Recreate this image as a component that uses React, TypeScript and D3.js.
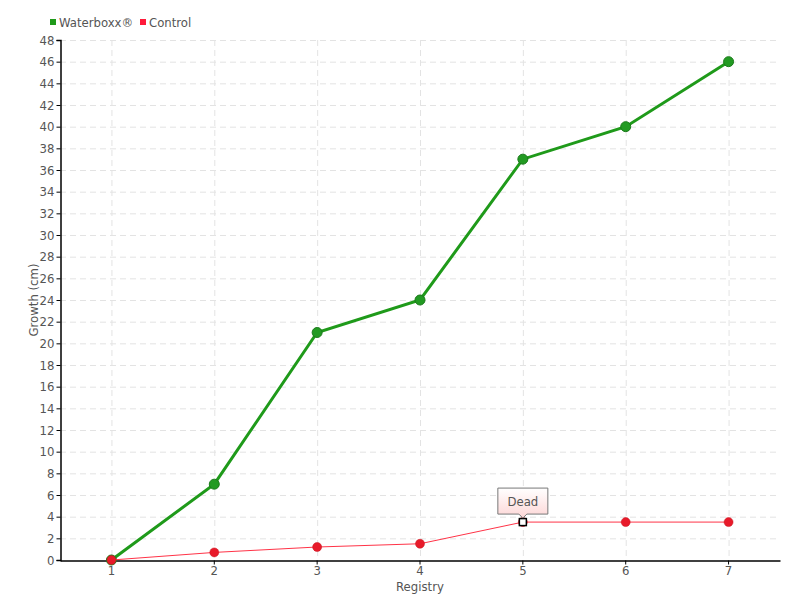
import { useEffect, useRef } from "react";
import * as d3 from "d3";

const registries = ["1", "2", "3", "4", "5", "6", "7"];
const waterboxx = [0, 7, 21, 24, 37, 40, 46];
const control = [0, 0.7, 1.2, 1.5, 3.5, 3.5, 3.5];
const yTicks = d3.range(0, 49, 2);
const deadIndex = 4;

export default function App() {
  const ref = useRef<SVGSVGElement>(null);

  useEffect(() => {
    if (!ref.current) return;
    const width = 800;
    const height = 600;
    const margin = { top: 40, right: 20, bottom: 40, left: 60 };
    const font = "'DejaVu Sans Condensed', 'DejaVu Sans', sans-serif";

    const svg = d3.select(ref.current);
    svg.selectAll("*").remove();
    svg.attr("width", width).attr("height", height).style("font-family", font);

    const x = d3
      .scaleBand()
      .domain(registries)
      .range([margin.left, width - margin.right])
      .padding(0);
    const cx = (i: number) => x(registries[i])! + x.bandwidth() / 2;
    const y = d3
      .scaleLinear()
      .domain([0, 48])
      .range([height - margin.bottom, margin.top]);

    // grid
    const grid = svg.append("g").attr("stroke", "#e3e3e3").attr("stroke-dasharray", "6,4");
    grid.selectAll("line.h")
      .data(yTicks.slice(1))
      .enter()
      .append("line")
      .attr("x1", margin.left)
      .attr("x2", width - margin.right)
      .attr("y1", (d) => y(d) + 0.5)
      .attr("y2", (d) => y(d) + 0.5);
    grid.selectAll("line.v")
      .data(registries)
      .enter()
      .append("line")
      .attr("y1", margin.top)
      .attr("y2", height - margin.bottom)
      .attr("x1", (d) => x(d)! + x.bandwidth() / 2 + 0.5)
      .attr("x2", (d) => x(d)! + x.bandwidth() / 2 + 0.5);

    // axes
    const yAxis = svg.append("g")
      .attr("transform", `translate(${margin.left + 0.5},0)`)
      .call(d3.axisLeft(y).tickValues(yTicks).tickSize(4).tickPadding(2));
    yAxis.select(".domain").attr("stroke", "#000").attr("stroke-width", 1.5);
    yAxis.selectAll("text").style("font-size", "13px").attr("fill", "#555").style("font-family", font);

    const xAxis = svg.append("g")
      .attr("transform", `translate(0,${height - margin.bottom + 0.5})`)
      .call(d3.axisBottom(x).tickSize(4).tickSizeOuter(0).tickPadding(1));
    xAxis.select(".domain").attr("stroke", "#000").attr("stroke-width", 1.5);
    xAxis.selectAll("text").style("font-size", "13px").attr("fill", "#555").style("font-family", font);

    svg.append("text")
      .attr("x", (margin.left + width - margin.right) / 2)
      .attr("y", 591)
      .attr("text-anchor", "middle")
      .attr("fill", "#555")
      .style("font-size", "13px")
      .text("Registry");
    svg.append("text")
      .attr("transform", `translate(38,${(margin.top + height - margin.bottom) / 2}) rotate(-90)`)
      .attr("text-anchor", "middle")
      .attr("fill", "#555")
      .style("font-size", "13px")
      .text("Growth (cm)");

    // lines
    const line = d3.line<number>().x((_, i) => cx(i)).y((d) => y(d));
    svg.append("path")
      .datum(waterboxx)
      .attr("d", line)
      .attr("fill", "none")
      .attr("stroke", "#1f9a1a")
      .attr("stroke-width", 3);
    svg.selectAll("circle.w")
      .data(waterboxx)
      .enter()
      .append("circle")
      .attr("cx", (_, i) => cx(i))
      .attr("cy", (d) => y(d))
      .attr("r", 5)
      .attr("fill", "#229a22")
      .attr("stroke", "#1b7a1b")
      .attr("stroke-width", 1);

    svg.append("path")
      .datum(control)
      .attr("d", line)
      .attr("fill", "none")
      .attr("stroke", "#ff3347")
      .attr("stroke-width", 1);
    svg.selectAll("circle.c")
      .data(control)
      .enter()
      .append("circle")
      .attr("cx", (_, i) => cx(i))
      .attr("cy", (d) => y(d))
      .attr("r", 4.5)
      .attr("fill", "#e81a2a")
      .attr("stroke", "#c4141f")
      .attr("stroke-width", 0.5);

    // dead annotation
    const dx = cx(deadIndex);
    const dy = y(control[deadIndex]);
    svg.append("rect")
      .attr("x", dx - 3.5)
      .attr("y", dy - 3.5)
      .attr("width", 7)
      .attr("height", 7)
      .attr("fill", "#fff")
      .attr("stroke", "#000")
      .attr("stroke-width", 1.5);

    const defs = svg.append("defs");
    const grad = defs.append("linearGradient")
      .attr("id", "deadGrad")
      .attr("x1", 0).attr("y1", 0).attr("x2", 0).attr("y2", 1);
    grad.append("stop").attr("offset", "0%").attr("stop-color", "#ffffff");
    grad.append("stop").attr("offset", "100%").attr("stop-color", "#fdd6d6");

    const bw = 50;
    const bh = 26;
    const bx = dx - bw / 2;
    const by = dy - 34;
    svg.append("path")
      .attr(
        "d",
        `M${bx},${by}H${bx + bw}V${by + bh}H${dx + 4}L${dx},${dy - 4}L${dx - 4},${by + bh}H${bx}Z`
      )
      .attr("fill", "url(#deadGrad)")
      .attr("stroke", "#777")
      .attr("stroke-width", 1);
    svg.append("text")
      .attr("x", dx)
      .attr("y", by + 18)
      .attr("text-anchor", "middle")
      .attr("fill", "#555")
      .style("font-size", "13px")
      .text("Dead");

    // legend
    const legend = [
      { label: "Waterboxx®", color: "#1f9a1a", x: 50 },
      { label: "Control", color: "#ff1a3a", x: 140 },
    ];
    const lg = svg.selectAll("g.legend").data(legend).enter().append("g");
    lg.append("rect")
      .attr("x", (d) => d.x)
      .attr("y", 19)
      .attr("width", 6)
      .attr("height", 6)
      .attr("fill", (d) => d.color);
    lg.append("text")
      .attr("x", (d) => d.x + 9)
      .attr("y", 27)
      .attr("fill", "#555")
      .style("font-size", "13px")
      .text((d) => d.label);
  }, []);

  return <svg ref={ref} style={{ position: "absolute", left: 0, top: 0 }} />;
}
